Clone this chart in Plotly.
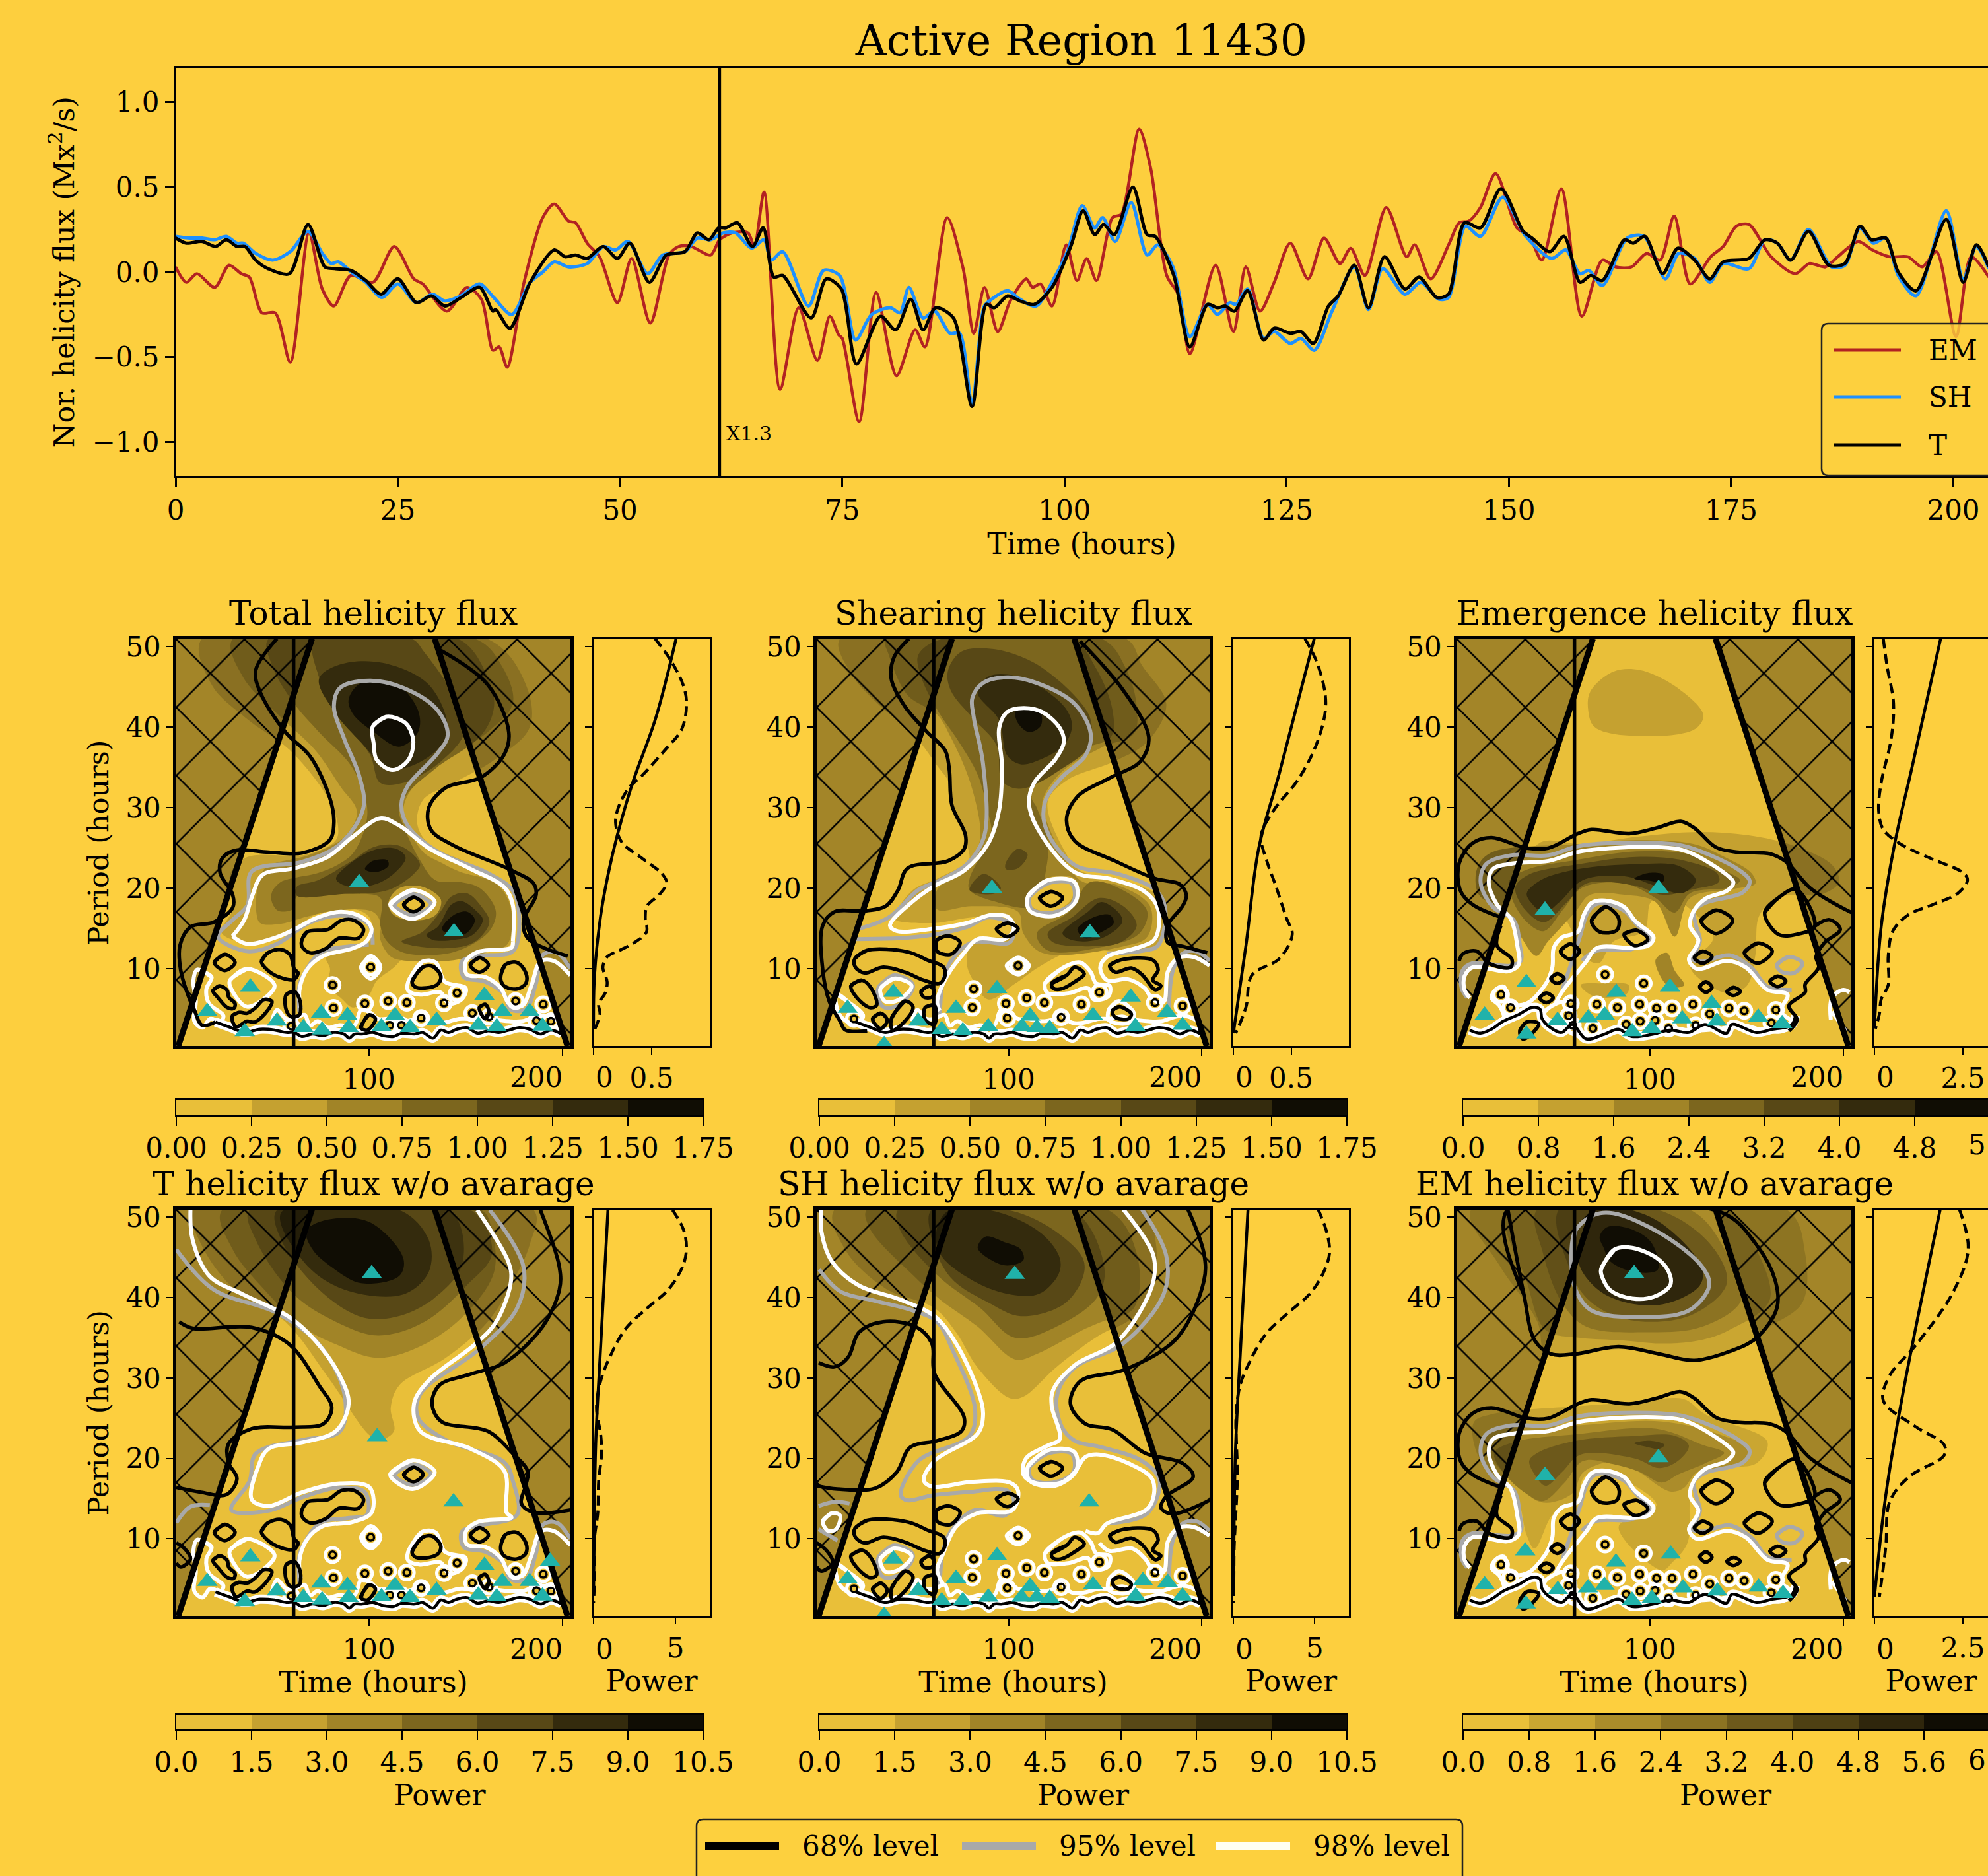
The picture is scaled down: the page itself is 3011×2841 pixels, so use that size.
import plotly.graph_objects as go

W, H = 3011, 2841
BG = "#FDCF3E"
FONT = "DejaVu Serif"


def palette(n):
    a, b = (233, 191, 57), (16, 13, 4)
    return ["rgb(%d,%d,%d)" % tuple(round(a[k] + (b[k] - a[k]) * i / (n - 1)) for k in range(3)) for i in range(n)]


# ---------------- top panel: knots
EM_T = [0,1.2,2.4,4.4,6,7.4,8.3,9.7,11.2,12.9,15,16.5,17.8,19.7,22.2,24.6,26.8,27.8,30.5,32.8,34.4,35.7,36.4,37.3,39.2,41.3,42.6,44.2,45,46.3,47.7,49.7,51.3,53.4,55.5,56.6,58,60.2,61.2,62.6,64.4,65.1,66.2,68,70.1,72.2,73.6,74.6,75,76.9,78.8,81.1,83.2,84.3,86.8,88.6,89.8,91,92.5,93.9,95.7,96.4,97.3,98.6,100.2,101.4,102.5,103.6,105.4,106.4,108.4,109.7,111.5,112.9,114.1,117,119,120.4,122,123.6,125.4,127.4,129.2,131,132.2,133.8,136.2,138.5,139.4,141.2,143.3,144.4,145.5,146.8,148.5,150.9,152.3,153.7,155.9,158.2,160.5,162,163.8,165.5,167,168.6,170.4,172.7,174.1,175.6,177,179.5,182.2,183.8,185.6,187,189.3,190.9,192.8,194.9,196.5,198.1,200.3,202,204]
EM_V = [.03,-.06,-.01,-.09,.04,-.01,-.03,-.24,-.24,-.53,.23,-.1,-.2,-.02,-.06,.15,-.04,-.07,-.23,-.09,-.16,-.46,-.44,-.56,-.06,.32,.4,.3,.29,.17,.09,-.18,.08,-.3,.1,.15,.15,.1,.19,.23,.23,.15,.47,-.69,-.21,-.52,-.26,-.37,-.39,-.88,-.12,-.61,-.34,-.44,.32,.02,-.36,-.09,-.35,-.17,-.04,-.09,-.07,-.2,.16,-.05,.08,-.05,.32,.34,.84,.61,-.02,-.14,-.48,.04,-.35,.03,-.23,-.06,.17,-.04,.2,.05,.14,-.02,.38,.09,.16,-.04,.17,.29,.3,.38,.58,.26,.21,.07,.49,-.26,.07,.03,.03,.11,.07,.33,-.07,.09,.15,.27,.28,.09,-.01,.05,.03,.09,.18,.13,.09,.09,.03,.12,-.38,.09,-.03]
SH_T = [0,1.6,3,4.4,5.7,6.9,7.6,9,10.9,12.9,14.9,16.5,17.5,18.3,20,21.4,23.2,25,27.1,28.9,30.3,32.1,34.2,35.8,37.8,39.9,41.3,42.6,44.2,46.3,48.1,49.5,50.9,53.1,54.8,57.3,58.7,60.2,61.6,63,64.8,66.2,67,68.3,71.2,72.9,74.7,76.5,78.3,80.4,81.5,82.5,84.1,85.4,87.1,88.2,89.6,91,91.8,93.6,95,96.8,98.9,100.4,102,103.4,104.3,105.7,107.5,109.3,110.5,112.2,114.1,116.1,117.2,118.6,119.3,120.6,122.4,123.6,125.4,126.6,128.1,130.1,132.6,134.2,135.8,138.3,140.1,142.1,143.2,145.1,146.8,149.3,151.9,154.8,156.4,158,159,160.5,163.3,165.2,167.6,169.1,170.9,172.6,174.1,177,178.8,180.2,181.7,183.7,186.3,187.8,189.5,191,192.4,193.8,195.8,199.2,201.1,202.6,204]
SH_V = [.21,.2,.2,.19,.21,.17,.17,.11,.07,.12,.24,.11,.05,.06,-.01,-.06,-.15,-.07,-.18,-.13,-.17,-.14,-.07,-.15,-.25,-.06,0,.06,.03,.05,.15,.13,.18,-.01,.1,.12,.2,.19,.23,.23,.14,.19,.07,.12,-.2,.01,-.02,-.4,-.25,-.21,-.24,-.09,-.27,-.23,-.36,-.36,-.78,-.2,-.16,-.11,-.16,-.2,-.03,.13,.39,.26,.32,.18,.41,.1,.16,.03,-.38,-.19,-.25,-.18,-.19,-.1,-.39,-.35,-.42,-.39,-.46,-.23,.03,-.22,.02,-.13,-.06,-.16,-.15,.27,.21,.44,.21,.08,.13,-.01,.01,-.08,.2,.21,-.04,.11,.08,-.06,.05,.02,.19,.17,.07,.25,.03,.04,.26,.17,.2,-.02,-.14,.36,-.04,.15,.02]
T_T = [0,1.2,3,4.5,5.7,6.9,7.8,9,10.4,12.8,14.9,16.8,17.9,19.7,21.4,23.1,25,27.1,28.8,30.3,32.1,34.2,35.7,36,37.6,39.9,42.6,43.8,45,46.3,48.1,49.7,51.1,53.3,55.2,57.3,58.7,60,61.1,61.9,63.2,64.9,66.1,67.3,68.3,71.5,73.2,74.9,76.6,79.3,81,82.7,84.1,85.5,87.5,89.6,91.2,92.1,93.6,95,96.6,98.6,100.7,102.1,103.4,104.4,105.6,107.7,109.3,110.2,112.3,114.1,116.1,117.2,118.1,119.1,120.6,122.4,123.6,125.4,126.6,128,129.7,130.8,132.6,134.2,136,138.3,139.9,141.9,143.2,145,146.8,149.1,151.6,152.6,154.6,156.2,158,159.2,160.5,163,164,165.3,167.3,169,170.9,172.6,174.1,177,178.8,180.2,181.7,183.7,186,187.8,189.5,190.8,192.4,193.8,195.8,199.2,201.1,202.6,204]
T_V = [.2,.17,.18,.15,.19,.15,.15,.07,.02,-.01,.28,.03,.02,.01,-.05,-.13,-.04,-.18,-.14,-.2,-.15,-.09,-.23,-.22,-.33,-.06,.13,.09,.1,.08,.15,.08,.17,-.06,.1,.12,.23,.19,.26,.26,.29,.15,.26,-.03,-.02,-.27,-.04,-.1,-.54,-.26,-.34,-.16,-.34,-.21,-.27,-.79,-.19,-.21,-.14,-.17,-.19,-.09,.15,.36,.22,.28,.22,.5,.22,.21,-.02,-.44,-.19,-.21,-.2,-.23,-.11,-.4,-.33,-.36,-.35,-.42,-.2,-.14,.04,-.21,.09,-.1,-.03,-.15,-.13,.29,.26,.49,.24,.2,.12,.21,-.06,-.02,-.05,.19,.17,.21,-.01,.14,.07,-.04,.06,.08,.19,.17,.07,.24,.04,.05,.27,.19,.2,0,-.11,.31,-.06,.16,.03]
TOP_TICKS = [0, 25, 50, 75, 100, 125, 150, 175, 200]
FLARE_T = 61.2
FLARE_LABEL = "X1.3"

# ---------------- colour bars
LEVELS_T_AVG = [0, .25, .5, .75, 1, 1.25, 1.5, 1.75]
LEVELS_EM_AVG = [0, .8, 1.6, 2.4, 3.2, 4.0, 4.8, 5.6]
LEVELS_T_RAW = [0, 1.5, 3, 4.5, 6, 7.5, 9, 10.5]
LEVELS_EM_RAW = [0, .8, 1.6, 2.4, 3.2, 4.0, 4.8, 5.6, 6.4]

# ---------------- cone of influence (time, period)
COI_LEFT = [(.7, .4), (1.7, .4), (70.7, 51), (.7, 51)]
COI_RIGHT = [(134, 51), (202.5, .4), (204, .4), (204, 51)]

# ---------------- filled bands: (level, outline of time,period)
bands_T_avg = [
 (1, [(13.9,51),(18.9,45.3),(37.4,41),(59.1,37.2),(78.7,31.3),(84.1,27.8),(83,26),(67.8,24.2),(37.4,23.9),(28.7,21.9),(29.8,17.4),(24,14.5),(41.7,13.2),(61.3,15),(74.3,17),(87.4,17.6),(100,16.5),(101,13.5),(88,12.5),(78,11.5),(80,10),(79,8),(86,6.3),(92,5.2),(100,6.7),(104,8.5),(112,10),(122,12),(150,12.2),(172,12.8),(174.5,17.9),(170,20.5),(152.6,23),(131,25.5),(125,28),(128,31),(143,33),(165,36),(183,40),(181,45.3),(161,51)]),
 (2, [(29.8,51),(35.2,46.2),(54.8,41.2),(72.2,37.2),(85.2,32.7),(93.9,29.5),(87.4,26.4),(70,24.2),(46.1,22.4),(41.9,18.8),(41.9,17.2),(43.9,15.7),(54.7,15.6),(68.2,16.5),(84.5,17.3),(102,17.1),(106,15.8),(106,13.6),(111.5,11.5),(119.6,11),(141.2,11),(160,12),(171.6,13.1),(173,17.8),(165.5,20.6),(146.6,22.1),(137.2,23.2),(127.7,24.6),(117.8,29.6),(124.3,33.1),(135.2,35.4),(161.3,39.4),(174.3,43),(168.9,47.5),(154.8,51)]),
 (3, [(48.3,51),(50.4,47.5),(61.3,43),(74.3,39.4),(91.7,34.9),(99.3,29.5),(92.6,24.6),(84.5,23),(73.6,21.9),(61.5,21.3),(54.7,20.8),(50,19.5),(50,18.3),(53.4,17.2),(61.5,17.5),(62.8,19),(92.6,19.3),(106,18.8),(106,15.3),(109.5,13.4),(118.2,12),(143.9,12.1),(162.2,14.7),(165.5,17.2),(157.4,20),(146.6,20.8),(134.5,21),(126.4,23.5),(117.8,27.8),(115.7,29.6),(120,31.8),(135,35),(158,39),(164.6,42.6),(161.3,46.2),(146,51)]),
 (4, [(72,51),(74.3,46.2),(83,41.7),(100.4,36.7),(105.9,33.1),(117.8,33.1),(137.4,35.8),(149.3,39.4),(146,43),(128.7,49.3),(122,51)]),
 (4, [(62.8,20.2),(73.6,21),(89.9,23.2),(103.4,25.2),(116.9,25.2),(126.4,23),(123.6,21.9),(110.1,19.8),(87.2,19.3),(62.8,19.1)]),
 (4, [(116.9,13.4),(127.7,14.6),(137.2,17.2),(142.6,19),(150.7,19.4),(158.8,17.5),(162.2,15.8),(156,13.6),(146.6,12.7),(127.7,12.7)]),
 (5, [(74.3,46),(85.2,47.8),(107,48),(130.9,45.3),(140.7,39.9),(135.2,37.2),(117.8,34.9),(107,35.4),(96.1,38.1),(83,41.7)]),
 (5, [(83.1,21.2),(92.6,23.5),(104.7,24.9),(114.2,24.9),(119,23.8),(110.1,21.3),(98,20.2),(87.2,20.4)]),
 (5, [(129.7,14.2),(135.8,15.3),(142.6,18),(148,18.4),(155.4,17.2),(158.8,16.1),(153.4,14.2),(143.9,13.6),(133.1,13.6)]),
 (6, [(89.6,43.5),(96.1,45.5),(113.5,45.5),(125.4,42.1),(125.4,39.4),(115.7,37.6),(102.6,39.4),(91.7,41.7)]),
 (6, [(98,22.4),(102,23.4),(109.5,23.5),(110.1,22.8),(103.4,22)]),
 (6, [(137.8,14.9),(143.9,16.7),(150.7,17.1),(154.7,16.1),(150.7,14.5),(145.3,14.1)]),
 (1, [(110.1,18.2),(115.5,20),(127.7,20.2),(137.2,18.6),(134.5,16.7),(123.6,16),(112.8,16.7)]),
 (0, [(112.8,18.2),(119.6,19.7),(130.4,19.5),(132.4,18),(123,16.4),(113.8,16.9)]),
 (0, [(95,10.2),(101,11.3),(107,10.2),(101,9.1)]),
]
bands_SH_avg = [
 (1, [(12.8,51),(18.4,46.7),(33.8,42.6),(50.5,39.2),(64.4,34.8),(68.6,33.4),(72.8,29.3),(79.8,23.9),(78.4,23.2),(63,21.2),(50.5,19.8),(40.7,16.4),(42.1,16),(61.6,15.7),(81.2,16.4),(99.3,16.4),(102,14.4),(81.2,13.3),(78.4,10.6),(82.6,8.2),(89.5,6.2),(103.5,8.2),(116,10.3),(134.2,12.3),(176,12.6),(180.2,18.4),(162,20.8),(137,22.2),(130,24.2),(120.2,30.7),(130,33.4),(155,35.8),(171.8,38.2),(181.6,42.9),(169,47.7),(160.7,51)]),
 (2, [(36.5,51),(38,49),(47.7,44),(63,41.6),(70,38.8),(79.8,33.4),(85.4,27.3),(84,24.9),(78.4,22.5),(63,19.8),(63,17.4),(81.2,17.8),(104.9,17.1),(107.7,14.4),(117.4,12),(159.3,12.8),(171.8,14),(173.2,17.8),(155,20.5),(138.4,20.8),(130.7,22.9),(120.2,28),(117.4,30.7),(127.2,34.4),(148.1,37.5),(164.8,39.2),(166.3,42.6),(160.7,47.3),(148.1,51)]),
 (3, [(65.8,51),(53.3,49),(54.7,46.3),(63,42.2),(74.2,38.2),(84,34.1),(89.5,29.3),(90.9,26.9),(79.8,21.2),(79.8,19.8),(92.3,18.4),(113.2,17.8),(119.5,22.5),(120.2,25.9),(114.6,30),(111.8,31.4),(117.4,34),(135.6,37.1),(153,38.8),(153.7,42.2),(145.3,47.3),(132.8,51)]),
 (3, [(114.6,14.4),(131.4,17.1),(142.5,20.8),(162,19.4),(171.8,17.1),(167.6,14.4),(148.1,12.7),(120.2,12.3)]),
 (4, [(68.6,47),(75.6,49.4),(92.3,49.7),(113.2,48),(134.2,43.9),(142.5,40.9),(141.1,37.5),(127.2,34.8),(111.8,32.7),(103.5,32.4),(96.5,33.4),(93.7,37.8),(81.2,41.2),(70,44.6)]),
 (4, [(98.6,23.2),(104.9,24.9),(109.8,24.2),(104.9,22.5),(98.6,22.4)]),
 (4, [(79.8,19.8),(87,21.8),(96,20),(92,19.3)]),
 (4, [(120.2,14.4),(132.8,16.4),(146.7,18.8),(159.3,17.8),(166.3,15.4),(158,13.3),(141.1,12.8),(123,13.3)]),
 (5, [(84,44.3),(89.5,46.3),(106.3,46.2),(128.7,42.6),(132.8,40.2),(128.7,37.8),(117.4,36.1),(106.3,35.4),(99.3,36.5),(95.1,40.9)]),
 (5, [(127.9,14.4),(141.1,17.1),(148.1,18.3),(157.9,16.7),(158.6,15.7),(148.1,13.8),(134.2,13.5)]),
 (6, [(103.5,41.9),(106.3,42.4),(116,42.1),(116.7,40.2),(110.5,39.4),(104.9,40.5)]),
 (6, [(135.6,14.9),(143.9,16.4),(152.3,16.7),(154.4,15.7),(146.6,14.4),(139.8,13.8)]),
 (1, [(110.5,19.1),(120.2,21.3),(134.2,21.2),(135.6,18.8),(124.4,16.7),(110.5,17.4)]),
 (0, [(111.2,19.1),(120.2,20.8),(132.8,20.8),(132.8,18.8),(123,17.1),(111.9,17.8)]),
]
bands_EM_avg = [
 (1, [(68.3,42.1),(69.3,44.4),(81.2,46.9),(95,47.1),(114.9,44.8),(127.7,41.5),(122.8,39.7),(87.1,39),(71.3,40.1)]),
 (1, [(34.7,21.9),(43.6,25.7),(65.4,25.5),(93.1,26.4),(124.7,27),(150.5,26.6),(174.3,25.3),(194.1,22.9),(197.7,20.8),(190.2,19.4),(166.4,18.9),(156.5,16.6),(154.5,11.7),(150.1,7.9),(139.6,7),(120.8,10.3),(132.7,13.8),(122.8,17),(112.9,18.6),(101,18.4),(97.1,14.7),(81.3,13.4),(73.7,10.7),(65.9,11.6),(60,14.7),(54,16.9),(42.1,18.3)]),
 (1, [(64.4,8),(75.2,8.2),(89.1,8),(88.1,6.9),(71.3,6.6)]),
 (2, [(10.9,22.4),(17.8,24.4),(63.4,25.5),(93.1,26),(122.8,25.5),(138.6,23.9),(152.5,21.9),(154.5,20.6),(142.6,19.9),(120.8,18.8),(112.9,14),(103,18.3),(87.1,19.2),(69.3,19.2),(61.4,17),(47.5,13.4),(41.6,11.6),(31.7,14.7),(23.8,17.4),(11.9,19.2)]),
 (2, [(103,11.1),(108.9,12),(112.9,9.8),(117.8,8),(109.9,7.8)]),
 (3, [(27.7,21),(37.6,22.4),(61.4,23.5),(93.1,24.6),(120.8,24.2),(136.7,22.4),(146.6,21),(140.6,20.1),(120.8,19.4),(112.9,17),(103,18.8),(87.1,20.6),(65.3,20.1),(55.4,17.4),(45.5,14.7),(37.6,15.6),(29.7,18.3)]),
 (4, [(30.7,20.1),(37.6,21.7),(63.4,23),(93.1,23.9),(116.8,23.5),(134.7,21.9),(135.7,20.8),(122.8,19.9),(106.9,19.2),(93.1,20.3),(67.3,20.6),(57.4,18.3),(45.5,15.8),(35.6,17.4)]),
 (5, [(36.6,19.4),(43.6,21),(63.4,22.4),(93.1,23),(114.9,22.8),(123.8,21),(116.8,19.4),(103,20.3),(87.1,21.5),(65.3,21),(53.5,18.3),(45.5,17),(38.6,18.3)]),
 (6, [(92.1,21.2),(99,21.9),(106.9,21.7),(106.9,20.8),(99,21)]),
]
bands_T_raw = [
 (1, [(9.1,50.9),(12.4,47.2),(28.7,41.5),(57,37),(78.7,30.2),(100.4,22.9),(105.9,22.3),(113,23.4),(111.3,26.3),(115.7,29.1),(139.6,32.5),(161.3,37),(174.3,42),(183,46.6),(185,50.9)]),
 (2, [(24.3,50.9),(29.8,46),(46.1,41),(65.7,36.4),(83,34.2),(104.8,32.5),(128.7,34.2),(150.4,38.1),(164.6,43.2),(163.5,48.3),(158,50.9)]),
 (3, [(38.5,50.9),(41.7,47.2),(61.3,40.4),(83,37),(104.8,35.3),(128.7,37),(150.4,41.5),(163.5,45.5),(152.6,50.9)]),
 (4, [(52.6,50.9),(54.8,47.2),(74.3,41),(96.1,37.6),(113.5,37.6),(133,39.8),(148.3,44.3),(141.7,50.9)]),
 (5, [(54.8,50.6),(66.7,44.4),(87.4,41),(117.8,40.4),(130.9,43.2),(130.9,47.2),(115.7,50.9)]),
 (6, [(67.8,48.3),(78.7,49.7),(100.4,49.4),(117.8,44.9),(115.7,42.7),(96.1,41.8),(80.9,43.8),(71,46)]),
]
bands_SH_raw = [
 (1, [(10,51),(15.6,45.9),(36.5,41.1),(61.6,38.7),(72.8,35.7),(84,31.3),(100.7,27.5),(107.7,27.7),(124.4,31.3),(146.7,35.3),(163.5,37.4),(175.9,42.1),(174.6,48.9),(170.4,51)]),
 (2, [(26.8,51),(28.2,48.6),(50.5,42.8),(64.4,39.8),(84,36.4),(103.5,32.3),(114.6,33),(138.4,36),(148.1,37),(164.8,38.7),(166.3,45.5),(150.9,51)]),
 (3, [(43.1,51),(43.5,48.6),(63,42.8),(85.4,38.7),(103.5,35),(127.2,36.7),(146,40.1),(149.5,43.8),(132.8,51)]),
 (4, [(60.3,51),(59.6,47.9),(70,42.5),(89.5,39.4),(106.3,37.7),(128.6,39.2),(138.4,42.5),(138.4,44.9),(120.2,48.9),(97.9,51)]),
 (5, [(63,48.7),(64.4,45.5),(84,41.8),(103.5,40.3),(116,40.5),(125.8,42.9),(126.5,44.9),(117.4,47.9),(95.1,50.6),(70,51)]),
 (6, [(84,46.2),(88.1,47.6),(97.9,46.9),(106.3,46),(107.7,44.7),(99.3,44),(90.9,44.7)]),
]
bands_EM_raw = [
 (1, [(8,51),(22.6,44),(42.1,37),(46.3,33),(61.6,33),(85.4,33.6),(106.3,33),(123,32.4),(149.5,34.3),(162,36.4),(178.8,39.4),(180.2,45.5),(170.4,51)]),
 (2, [(26.8,51),(36.5,42.1),(46.3,36),(64.4,35),(85.4,34.7),(106.3,34.3),(125.8,34.7),(141.1,36),(162,39.8),(149.5,48.3),(138.4,51)]),
 (3, [(42.1,51),(45,45.5),(54.7,39.4),(67.2,36.4),(97.9,35.7),(127.2,36.4),(147.4,39.8),(139.8,45.5),(120.2,51)]),
 (4, [(53.3,51),(58.9,43.5),(65.8,40.4),(78.4,38.1),(97.9,37),(123,38),(139.8,41.8),(131.4,46.6),(103.5,51)]),
 (6, [(62.9,44.9),(72.8,41.1),(89.5,39.3),(109,39.3),(125.8,41.5),(127.2,43.5),(117.4,46.9),(97.9,50.3),(72.8,51)]),
 (7, [(74.2,47.6),(78.4,48.8),(89.5,48.6),(100.7,46.9),(104.2,43.5),(92.3,43.2),(79.8,44.5),(76.3,46.2)]),
 (1, [(9.3,24.5),(18.4,25.5),(63,26.5),(92.3,27),(117.4,27.4),(128.6,25.5),(160.7,22.1),(155.1,19.4),(128.6,18.7),(123.7,17.3),(120.9,15),(119.5,9.5),(111.8,7.1),(106.3,6.1),(84,11.5),(103.5,14.2),(85.4,17.6),(77,18.7),(65.8,17.6),(63,14.6),(50.5,13.2),(40.7,8.8),(36.5,10.5),(32.3,14.6),(24,17),(11.4,20.4)]),
 (2, [(15.6,21.4),(17,23.4),(61.6,24.1),(106.3,24.6),(138.4,22.8),(152.3,21.1),(142.5,19),(124.4,18.3),(117.4,16.3),(110.5,15.9),(92.3,18.7),(84,19.7),(65.8,18.3),(60.3,15.7),(50.5,14.6),(43.5,14.6),(36.5,15.6),(25.4,18)]),
 (3, [(19.8,20.7),(31,22.1),(61.6,23),(103.5,23.7),(127.2,21.7),(138.4,20.7),(128.6,19.4),(114.6,18),(106.3,17),(95.1,18.3),(81.2,19.3),(65.8,19.7),(56.1,17),(45,14.7),(36.5,15.6),(25.4,18)]),
 (4, [(37.9,19.7),(42.1,20.7),(61.6,22.2),(92.3,22.8),(113.2,22.8),(120.2,21.6),(114.6,19.7),(104.9,18.8),(92.3,20),(64.4,20.5),(54.7,18.3),(46.3,16.6),(40.7,18)]),
 (5, [(92,21.9),(100.7,22.2),(107.7,21.7),(104.9,21.2),(99.3,21.4)]),
]

# ---------------- significance contours (time, period)
wiggle_TS = list(zip(
 [20.9,29,35.8,43.9,51.4,57.4,61.5,65.5,71,76.3,81.8,87.2,89.9,92.6,96.6,102,107.4,112.8,116.9,123.6,127.7,133.1,137.2,141.2,145.3,150.7,156,161.5,166.9,172.3,177.7,183.1,188.5,193.9,199.4],
 [3.4,2.7,2.1,2.5,2.4,2.1,2.1,1.6,1.9,1.7,2.1,1.9,1.4,1.9,1.9,2.1,1.7,1.6,2,1.9,2.1,1.4,2.4,2.1,2.5,2.7,2,2.3,2.1,2.4,2.7,2.5,1.9,2.4,1.9]))
lace_TS = [(50,3.5),(52.7,4.9),(57.4,3.8),(61.5,3.8),(66.9,4.3),(69.6,2.96),(73.6,3.5),(79,2.7),(84.5,3),(92.6,3),(96,4.9),(100.7,4.6),(104.7,3.8),(110.1,3.8),(115.6,3.5),(123.6,3.8),(127,4.6),(129.7,3.8),(133.1,3.3),(138.5,3.3),(146.6,3.8),(152,3.8),(158.8,4.1),(162.9,3.8),(172.3,3.5),(179,3.5),(187.1,4.1),(192.6,4.1),(198,3.5)]
wiggle_EM = [(7.1,2.4),(12.7,2),(18.3,2.5),(24.5,3.5),(32.2,4.3),(39.2,5.2),(43.4,5),(44.5,3.8),(48.3,2.8),(54.5,2.1),(60.1,3.1),(67.1,1.3),(76.8,1.9),(83.8,2.5),(90.8,1.6),(102,1.9),(110.3,2.4),(120.1,2.1),(128.5,3.1),(139.6,2),(142.4,3.1),(155,2.1),(163.3,2.5),(173,3),(175.2,4.2)]

# column 1: total helicity
black_loops_T = [
 [(65.5,13.6),(68.2,14.6),(79,14.9),(85.8,16),(92.6,16),(97.3,14.9),(94.6,13.8),(84.5,13.8),(77.7,12.5),(69.6,12),(65.5,12.8)],
 [(118,18),(123,18.9),(128,18),(123,17.1)],
 [(20.3,10.8),(25.7,11.8),(31,10.8),(25.7,9.8)],
 [(44.6,10.9),(48,12),(54.7,12.4),(59.5,11.7),(61.5,10),(63.5,9.5),(61.5,8.7),(54.7,8.9),(48,9.8)],
 [(152.3,10.5),(157,11.4),(161.7,10.5),(157,9.6)],
 [(168.2,9.3),(170.3,10.5),(176.4,10.8),(181,9.5),(181,8.2),(176.4,7.5),(170.3,7.8),(168.2,8.5)],
 [(122.3,8.4),(127.7,10.2),(133.1,10.3),(137.2,9),(135,8),(124.3,7.7)],
 [(19.6,7.3),(23,7.9),(27,7.3),(27.7,6.5),(31,5.7),(30.4,5.1),(27,5.2),(22.3,6.4)],
 [(29.7,4.2),(33.1,4.6),(37.2,4.5),(41.2,5.1),(46,6.2),(50,5.96),(48,4.9),(41.2,3.4),(37.2,3.5),(31.8,2.8),(29.7,3.5)],
 [(57.4,6.8),(61.5,7.2),(64.2,6.3),(64.9,5.1),(64.2,4.3),(60,4.05),(57.4,4.9)],
 [(95.9,2.7),(100,4.3),(103.4,3.8),(99.3,2.4)],
 [(157,5.2),(160,5.6),(162,4.6),(160,3.8)],
]
black_top_T_avg = [
 [(52.6,51),(41.7,47.1),(43.9,44.4),(57,39.4),(70,36.3),(79.8,31.3),(82,28.2),(79.8,26),(65.7,24.4),(48.3,24.5),(30.9,24.7),(24.3,23.7),(23.3,21.9),(29.8,19.2),(29.8,17.6),(20,15.8),(8,15.2),(2.6,12.9),(3,9.8),(7,6.6),(10.2,4.8),(14,3),(21,3.4)],
 [(135.2,49.8),(161.3,45.3),(172.2,39.4),(170,36.7),(158,33.8),(139.6,32.5),(130.9,30),(132,27.3),(143.9,25.3),(172.2,22.4),(185,20.6),(186.3,19.2),(179.8,16),(182,13.8),(202.6,11.6)],
]
black_top_T_raw = [
 [(2.2,37),(9.1,36.2),(39.6,36.3),(59,34.2),(74.3,29.1),(80.9,26.3),(76.5,24.3),(61.3,23.9),(39.6,23.7),(27.6,21.8),(27.6,19.5),(32,17.5),(26.5,15.5),(13.5,15.8),(.7,16.4)],
 [(188.5,50.9),(198.3,43.8),(198.3,41),(189.6,36.4),(170,31.9),(152.6,30.5),(136.3,29.1),(132.6,26.8),(137.4,24.6),(161.3,23.4),(174.3,20.6),(182,18.4),(181,16.7),(178.7,14.4),(185,13.3),(204,13.6)],
 [(.7,9.5),(5,8.8),(8,7.5),(3,6.5),(.7,7)],
]
white_low_T = [
 [(64.9,5.15),(64.2,7.3),(68.2,9.95),(76.4,11.6),(91.2,12.5),(98.6,13.4),(101.4,15),(96.6,16.4),(85.8,17.1),(73.6,16.4),(61.5,14.9),(52,13.9),(37.2,13.1),(29.7,14.05)],
 [(174.3,13.4),(173.6,12.65),(156,12.1),(150,10.9),(150.7,9.3),(160.1,9),(168.2,7.6),(172.3,5.7),(179,5.4),(183.8,7.9),(188.5,10.9),(195.3,11),(204,9.2)],
]
white_loops_T = [
 [(120.3,8.4),(127.7,10.9),(134.5,10.8),(139.2,8.4),(150,7.6),(148,6.25),(141.2,5.7),(137,7.07),(126.4,6.8),(120.3,7.3)],
 [(28.4,8.6),(37.2,10),(51.4,7.9),(37.2,5.3),(28.4,7.9)],
 [(11.5,9.9),(18.9,9),(16.2,7.5),(17.6,5.7),(25,4.2),(23.6,3.5),(18.2,3.8),(14.2,2.7),(10,3.5),(10.8,6),(9.5,8.5)],
 [(111,18),(122.6,19.8),(134,18.3),(122.6,16.2)],
 [(96,10.2),(101,11.6),(106,10.2),(101,8.8)],
]
white_top_T_avg = [
 [(29.7,14.05),(35.8,16.1),(39.9,19.1),(45.3,21.7),(61.5,22.5),(78.7,23.9),(91.7,26.4),(105.9,28.7),(115.7,27.8),(130.9,25),(152.6,22.4),(170,20.1),(174.3,17.9),(174.3,13.4)],
]
white_closed_T_avg = [[(102,40.1),(109,41.3),(119,40.5),(123,38.2),(120,35.8),(112,34.7),(104,36),(102.5,38)]]
grey_top_T_avg = [
 [(64.2,4.6),(64.2,7.9),(66.9,9.5),(75,12),(90,12.8),(100,13)],
 [(102,13),(100,15.5),(88,16.6),(70,15.8),(52.6,13.1),(37.4,12.2),(22.2,14),(29.8,16.1),(37.4,17.9),(39.6,22.1),(65.7,23.3),(85.2,25.5),(97.2,30),(95,34),(87.4,38.5),(82,42.6),(85.2,44.9),(100.4,45.8),(117.8,44.9),(135.2,42.2),(140.7,39),(135.2,36.7),(120,32.7),(116.8,30.4),(120,27.8),(135.2,24.6),(161.3,21.9),(174.3,19.7),(177.6,16.1),(174.3,12.2),(156,11.6),(148,10.9),(149,9),(160,8.4),(170,6.8),(173,5),(181,5),(186,8),(190,11.8),(197,12),(204,10)],
]
grey_loops_T = [[(113,18),(122.6,19.3),(132,18),(122.6,16.7)]]
white_top_T_raw = [
 [(8,50.9),(9.1,47.2),(17.8,42.7),(35.2,40.4),(59,37.6),(72.2,34.7),(85.2,30.2),(89.6,26.8),(83,23.4),(65.7,22),(48.3,21.2),(42.8,18.9),(39.6,14.9),(48.3,14.1),(65.7,15.8),(85.2,16.9),(100.4,16.4),(101.5,13.3),(91.7,12.1),(76.4,11.6),(68.2,9.95),(64.2,7.3),(64.9,5.15)],
 [(155.9,50.9),(172.2,44.3),(173.3,42),(165.7,37),(154.8,34.2),(130.9,29.7),(123.3,26.8),(126.5,23.4),(152.6,21.2),(170,18.4),(171,13.3),(173.6,12.65),(156,12.1),(150,10.9),(150.7,9.3),(160.1,9),(168.2,7.6),(172.3,5.7),(179,5.4),(183.8,7.9),(188.5,10.9),(195.3,11),(204,9.2)],
]
grey_top_T_raw = [
 [(.7,46),(20,41),(52.6,38.1),(74.3,34.2),(87.4,28),(85.2,23.4),(65.7,22.3),(41.7,20.6),(38.5,17.2),(29.1,13.6),(48.3,13.5),(66,15.2),(85,16.4),(98,15.8),(99,13),(90,12.6),(75,12),(66.9,9.5),(64.2,7.9),(64.2,4.6)],
 [(162.4,50.9),(179.8,43.8),(176.5,38.7),(157,33.6),(126.5,28),(125.4,25.1),(139.6,22.3),(170,19.5),(174.3,17.2),(176.5,13),(156,11.6),(148,10.9),(149,9),(160,8.4),(170,6.8),(173,5),(181,5),(186,8),(190,11.8),(197,12),(204,10)],
 [(.7,12),(8,14),(18,14.2)],
]
rings_T = [(101,10.2),(81.3,8),(145.5,7),(138.8,5.75),(110,6),(119.6,5.8),(175.7,6),(98,5.7),(190,5.6),(60,2.9),(153.4,4.5),(162.1,4.05),(186.5,3.56),(193.9,3.5),(127,3.9),(81.8,5.15),(110.8,3),(116.9,3)]
tris_common_T = [(38.9,7.75),(159.6,6.7),(16.7,4.7),(75.4,4.5),(89,4.2),(113.5,4.2),(52.6,3.5),(135,3.6),(168.9,4.7),(183,4.7),(156.5,3),(166,2.8),(189.6,2.9),(66.3,2.7),(75.9,2.4),(89.6,2.7),(106.5,2.8),(121.3,2.7),(36,2.2)]
tris_T_avg = [(95,20.7),(143.9,14.6)]
tris_T_raw = [(101.5,43),(104.3,22.7),(143.7,14.6),(193.5,7.2)]

# column 2: shearing helicity
black_loops_SH = [
 [(20.5,11.3),(26.8,12.3),(47.7,12.1),(58.9,11),(66,10.3),(67.2,9.3),(64.4,8.2),(56.1,8.6),(46.3,9.6),(35.1,10.2),(25.4,9.5),(20.5,10.3)],
 [(18.4,7.9),(24,8.6),(28.9,7.6),(31.7,5.5),(28.2,5.2),(21.2,6.5)],
 [(39.3,3.8),(46.3,6),(50.5,5.3),(46.3,3.5),(40,2.4)],
 [(29.6,3.8),(33.8,4.5),(37.2,3.6),(33.8,2.6)],
 [(54.7,7.2),(58.9,7.9),(61.6,7.2),(60.3,6.5),(56.1,6.5)],
 [(56.8,5.2),(61.6,5.5),(61.6,3.1),(56.8,3.7)],
 [(63,13.6),(68.6,14.1),(74.9,13.3),(70,11.8),(63,12.2)],
 [(93.7,15),(99.3,15.7),(104.9,15),(99.3,14)],
 [(116,18.8),(121.9,19.6),(127.9,18.8),(121.9,17.8)],
 [(122.3,8.2),(130,9.2),(134.2,10.2),(139.1,9.4),(134.2,8.4),(127.2,7.5),(123,7.6)],
 [(152.3,10.4),(157.9,11.1),(174.6,11.1),(177.4,9.9),(174.6,8.6),(178.8,7.9),(176,7.4),(169,9.3),(163.5,10.1),(155.1,9.6)],
 [(153.7,4.8),(157.2,5.3),(163.5,4.4),(162,3.8),(155.1,4)],
]
black_top_SH_avg = [
 [(48.4,51),(40.7,48.7),(39.3,46),(46.3,42.6),(57.5,39.5),(67.2,37.1),(69.3,34.8),(70.7,30.3),(77.7,26.6),(77,24.9),(68.6,23.4),(47.7,22.5),(42.8,19.8),(36.5,17.8),(25.4,17.2),(10,17.1),(3.8,15.4),(3.8,9.9),(7.3,5.9),(12.8,3.5),(15.6,2.4),(26.8,2.3)],
 [(137,50.7),(159.3,44.6),(172.5,38.8),(168.3,35.8),(152.3,33.7),(135.6,31.4),(130,28.6),(134.2,25.9),(155.1,23.4),(176,21.2),(188.6,20.5),(192,19.1),(190,17.8),(182.3,15.4),(182.3,13.3),(190,12.8),(202.8,12)],
]
white_top_SH_avg = [
 [(64.4,4.8),(63,5.9),(68.6,9.3),(77,12),(83.9,13.7),(97.9,13.7),(102.8,15),(100,16.4),(91,16.7),(78.4,15.7),(61.6,15),(42.1,14.7),(38.6,15.4),(50.5,18.4),(61.6,20.3),(77,22.2),(89.5,25.6),(95.1,29.7),(96.5,35.4),(95.1,39.9),(99.3,41.9),(107.7,42.4),(117.4,41.9),(126.5,39.9),(128.6,38.2),(124.4,36.1),(113.2,33.1),(110.5,30.7),(114.6,27.6),(134.2,22),(152.3,21.2),(170.4,19.6),(177.4,17.4),(175.7,13.7),(167.6,12.7),(150.9,11.5),(147.4,10.1),(150.9,8.6),(162,8.7),(170.4,7.6),(174.6,6.2),(180.2,5.9),(182.3,9.6),(187.2,11.3),(195.5,11.5),(204,10.4)],
]
grey_top_SH_avg = [
 [(64.4,4.3),(66,8.4),(70,10.9),(81.2,13.3),(100.7,13.3),(102,15.4),(89.5,16.4),(78.4,15.2),(53.3,14),(21.2,13.7)],
 [(22.6,15),(38,16.4),(53.3,19.8),(64.4,21),(78.4,23),(87.5,26.6),(86.8,35.4),(82,41.2),(81.2,43.6),(86.8,45.5),(99.3,46.2),(114.6,45.5),(134.2,42.9),(142.5,39.2),(139.8,36.5),(127.2,33.7),(118.8,30.7),(119.5,27.3),(134.2,22.9),(156.5,21.8),(176,19.8),(181,17.6),(177.4,12.9),(170.4,12.3),(151,11.9)],
 [(183,5),(185,9.8),(190,11.9),(197,12.2),(204,11)],
]
white_loops_SH = [
 [(118.8,8.2),(128.6,10.2),(137,10.8),(142.5,9.6),(145.3,8.2),(152.3,7.9),(151.6,6.6),(144,6.2),(141.1,7.6),(131.4,7),(120.2,7)],
 [(33.8,7.6),(40.7,8.8),(49.8,7.9),(43.5,6.2),(36.5,5.9),(33.8,6.9)],
 [(10.7,6.9),(17,5.9),(24.7,4.2),(21.2,3.1),(12.8,4.2)],
 [(110,19),(120,21),(134,20.8),(135,18.5),(124,16.6),(111,17.2)],
 [(99,10.4),(104.9,11.4),(110.5,10.4),(104.9,9.3)],
 [(152,5),(157,6),(165,4.4),(162,3.3),(152,3.6)],
]
grey_loops_SH = [
 [(111,19),(120,20.6),(132.6,20.6),(133.5,18.3),(123,17),(112,17.4)],
 [(32.5,7.6),(40.7,9.2),(50.5,8),(44,5.6),(35,5.3)],
]
rings_SH = [(104.9,10.4),(81.9,7.5),(147,7.1),(109.4,6.4),(118.5,5.8),(137.7,5.6),(175.7,5.8),(190,5.4),(81.2,5.2),(98.6,5.7),(127.2,4),(99.3,3.9),(20,3.8)]
tris_SH_avg = [(91.4,20),(142.1,14.5),(40.4,7.1),(94,7.55),(163.2,6.5),(16.7,5.1),(72.8,5.1),(111.2,4.15),(143.7,4.2),(182,4.6),(53.3,3.5),(65.4,2.45),(76.3,2.3),(89.5,2.8),(107,2.85),(114.6,2.7),(121.3,2.6),(165.6,2.85),(190,3),(35.6,.6)]
tris_SH_raw = [(103.2,42.9),(141.7,14.6),(40.4,7.5),(94,7.9),(169.5,4.8),(16.7,5),(72.8,5.1),(111.2,4.1),(143.7,4.3),(182.3,4.6),(53.3,3.6),(65.4,2.3),(76.3,2.3),(89.5,2.75),(106.7,2.75),(114.6,2.75),(121.3,2.6),(165.7,2.9),(190,2.9),(35.6,.5)]
white_top_SH_raw = [
 [(3.1,51),(3.1,48.3),(8.6,44.5),(22.6,41.5),(43.5,39.8),(61.6,37.7),(72.8,34.3),(84,28.5),(86.8,25.5),(84,23.1),(61.6,19.7),(56.1,17.3),(60.3,16.5),(81.2,17.1),(100.7,17),(104.9,16),(102,13.6),(84,13.2),(72.8,11.5),(66,8.1),(63,6.1),(66,4.4)],
 [(159.3,51),(174.6,45.5),(175.3,42.5),(167.6,38.1),(155.1,34.3),(134.2,31.6),(123,28.5),(122.3,26.5),(126.5,22.4),(120.2,21.6),(109,20),(107.7,18),(113.2,17),(127.2,17),(134.2,18.3),(139.8,20.2),(146.7,20.5),(162,19.4),(174.6,17.3),(172.5,13.9),(150.9,11.9),(146,10.7),(139.8,11)],
 [(147,9.5),(152,8.5),(164,8.8),(170.4,7.6),(174.6,6.2),(180.2,5.9),(182.3,9.6),(187.2,11.3),(195.5,11.5),(204,10.4)],
]
grey_top_SH_raw = [
 [(2,43.5),(12.8,40.8),(31,39.6),(50.5,38.4),(63,37),(71.4,33.3),(82.6,26.2),(79.8,22.8),(53.3,19.7),(44.2,15.4),(47.7,14.8),(60.3,15.4),(78.4,15.8),(99.3,16),(102.8,14.6),(97.9,12.9),(82.6,13.6),(70,10.9),(66,8.4),(64.4,4.3)],
 [(169,51),(181.6,45.2),(180.2,40.4),(159.3,34.3),(134.2,31.3),(125.1,27.9),(127.2,24.1),(134.2,22.2),(148.1,21.4),(169,19.7),(178.1,17.3),(171.8,13.2),(151,11.9)],
 [(1.7,14.1),(10,14.6),(17.7,14.4)],
 [(1.7,11.2),(11.4,9.8)],
 [(183,5),(185,9.8),(190,11.9),(197,12.2),(204,11)],
]
black_top_SH_raw = [
 [(1.7,31.9),(10,31.4),(17,32.6),(22.6,35.7),(35.1,37),(51.9,36.4),(60.3,34.3),(61.6,30.6),(77,25.1),(75.6,23.4),(63,22.2),(49.1,21.4),(42.1,18.3),(31,16.3),(11.4,16.2),(.7,16.6)],
 [(192.8,51),(201.1,45.5),(201.1,42.1),(187.2,35),(160.7,31.1),(137,29.6),(132,26.8),(139.8,24.3),(153.7,23.6),(170.4,20.7),(190,19.4),(195.5,17.7),(181.6,15.3),(178.8,13.9),(184.4,13.1),(204,14.8)],
 [(.7,9.5),(6,8.5),(9,7),(3,6),(.7,6.5)],
]
white_extra_SH_raw = [[(3.8,12.2),(8.6,13.2),(12.8,12.9),(10.7,11.2),(6.6,11)]]

# column 3: emergence helicity
black_loops_EM = [
 [(70,16),(77,17.7),(84,16.3),(83,14.8),(74.2,14.6)],
 [(86.8,14.3),(93,14.8),(99,13.7),(92.3,12.9)],
 [(126.5,16),(134.2,17.3),(142.8,16),(134.2,14.4)],
 [(148.8,12),(155.8,13.2),(163.2,12.2),(155.8,10.7)],
 [(54,12.2),(58.9,13.1),(63.7,12.2),(58.9,11.2)],
 [(123,11.4),(127.2,12.2),(132.1,11.5),(127.2,10.7)],
 [(162,8.5),(166,9.1),(170.2,8.5),(166,7.8)],
 [(49,8.8),(52.2,9.4),(55.8,8.8),(52.2,8.2)],
 [(43.2,6.4),(46.6,7),(50.2,6.4),(46.6,5.8)],
 [(125.8,7.8),(128.9,8.4),(132.1,7.7),(128.9,7.1)],
 [(139.8,7.2),(143.2,7.7),(146.7,7.2),(143.2,6.7)],
 [(159.3,17),(166.3,18.8),(175.4,19.9),(185.1,15.3),(176,14.3),(166.3,14.3)],
 [(33,2.3),(36.5,3.4),(42.8,3.2),(38,1.7),(34.5,1.3)],
]
black_open_EM = [
 [(23.3,15.4),(21.2,12.9),(28.9,11.2),(28.2,10.2),(17,10.7),(10.7,12.2),(3.8,11.9),(1.7,11)],
 [(24.7,16.3),(8.6,18),(2.4,19.7),(1.7,23.1),(8.6,25.6),(18.4,26.3),(36.5,25),(47.7,25),(63,26.8),(70,27.3),(89.5,26.8),(103.5,27.5),(116,28.3),(123,27.5),(134.2,25.1),(145.3,24.5),(162,24.3),(170.4,23.3),(183,20),(204,17)],
 [(185.1,15.3),(192.7,16.1),(198.3,14.9),(190,13.2),(185.8,11.5),(187.2,10.2),(180.2,8.1),(180.2,7.1),(171.8,5.4),(176,3.7),(171.8,2.3)],
]
white_open_EM = [
 [(7.3,6.4),(4.5,7.4),(4.5,9.1),(8.7,10.2),(26.8,9.7),(32.4,10.5),(31.7,12.9),(28.2,16.3),(21.2,18),(17,20.7),(19.1,22.4),(29.6,23.1),(47.7,23.4),(64.4,24.6),(106.3,25.1),(120.2,24.5),(141.1,21.4),(143.2,20.7),(139.8,19.7),(128.6,18.7),(122.3,17),(120.9,15.3),(125.1,13.6),(123.7,12.6),(120.2,11.2),(124.4,10),(139.8,11),(149.5,10.2),(160.7,7.4),(171.1,6.8),(167.6,4.7),(173.2,3.4),(169,2.3),(159.3,2.3),(148.1,3),(134.2,2.5),(120.2,2.3),(106.3,2.3),(92.3,2),(78.4,2.3),(65.8,1.5),(54.7,2.7),(45.6,4.4),(51.9,5.7),(63,6.1)],
 [(8.6,2.7),(14.2,2),(18.4,2.7),(24.7,3.7),(22.6,5.4),(18.4,6.4),(20.5,7.4),(24.7,7.8),(28.2,5.7),(36.5,5.7),(46.3,8.1),(49.8,10.2),(50.5,12.6),(54.7,13.9),(63,14.6),(65.8,16.6),(70,18.2),(77,18.5),(86.8,17.7),(92.3,16),(102,13.9),(99.3,12.9),(90.9,12.6),(72.8,12.6),(67.2,10.9),(54.7,7.1),(51,5.5)],
 [(193.4,3.7),(194,6.4),(199.8,7.4),(203,7.1)],
 [(194,4.7),(201.1,2.3)],
]
grey_open_EM = [
 [(6,6.4),(3,7.6),(3.5,9.8),(8.7,10.7),(28,10.4),(33.5,11),(33,13),(30,16),(19.1,17.7),(12.8,20.7),(15.6,23),(28.2,24.1),(47.7,24.1),(64.4,25.3),(106.3,25.6),(120.2,25.1),(145.3,22.4),(151.6,20.9),(148.1,19.5),(128.6,18.2),(123,17.2),(124,15.3),(126,13.6),(124.7,12.6),(122,11.2),(127.2,10.9),(141.1,11.7),(152.3,10.2),(160.7,7.8),(173.2,7.4)],
 [(55,7.5),(60,11),(64,14),(68,17),(72,18),(77,18.1),(87,17.2),(93,15.6),(100,13.8),(96,13),(90,12.4),(72,12.2),(65,11)],
]
grey_loops_EM = [[(165.6,10.5),(171.8,11.5),(178.8,10.7),(174.6,9.5),(167.6,9.7)]]
rings_EM = [(77,9.3),(96.9,8.2),(72.8,5.6),(83.3,5.2),(59.3,5.7),(94.8,5.6),(103.5,5.1),(111.6,5.1),(122.3,5.6),(140.9,5.1),(148.8,4.8),(131,4.4),(165.1,4.9),(23.3,6.8),(28.2,5.2),(58.2,4.2),(60.3,3),(87.9,3.1),(95.1,3.5),(102.8,3.6),(109.8,2.6),(70.7,2.6),(162.8,3.3),(123.7,3)]
tris_EM_avg = [(104.6,20),(46,17.3),(36.4,8.3),(110.5,7.75),(82.8,7.1),(132,5.7),(14.9,4.25),(76.8,4.25),(68.3,3.9),(52.5,3.6),(116.8,3.8),(134.7,3.5),(156,4),(168.3,3.2),(91,2.2),(101,2.6),(36.4,1.9)]
tris_EM_raw = [(92,43),(104.5,20.1),(46,17.9),(35.8,8.5),(110.9,8.1),(82.6,7.1),(14.9,4.3),(76.7,4.2),(68.2,3.9),(52.6,3.7),(117.2,3.9),(134.9,3.5),(156.2,4),(168.8,3.2),(90.9,2.35),(101.1,2.6),(36.1,1.9)]
black_top_EM_raw = [[(26.8,51),(35.1,40.4),(40.7,34.7),(49.1,33),(61.6,33),(84,33.9),(104.9,33),(123,32.2),(141.1,33.3),(155.1,35),(165.6,38.7),(164.8,42.1),(155,46.6),(137,50.6)]]
white_ring_EM_raw = [[(74.9,43.5),(81.9,46),(91,46.2),(104.9,44.7),(110.5,42.8),(110.5,41.5),(102,40.1),(91,39.9),(79.8,40.9),(75.6,42.5)]]
grey_ring_EM_raw = [[(59.6,44.9),(61.6,48.3),(71.4,50.3),(81.2,50.5),(106.3,47.9),(127.2,43.8),(130.7,41.5),(120.2,38.4),(95.1,37.6),(70,38.4),(61.6,41.1)]]

# ---------------- side panels (power, period)
side_T_avg_dash = [(.53,51),(.66,48.4),(.77,45.3),(.8,43),(.76,39.8),(.61,37.1),(.43,34.2),(.3,32.4),(.21,29.9),(.19,28.1),(.24,25.8),(.43,23.6),(.59,21.8),(.63,20.7),(.57,19.3),(.46,17.8),(.445,16.4),(.456,14.6),(.354,13.3),(.21,12.2),(.117,11.5),(.08,10.2),(.117,8.4),(.1,7),(.044,5.7),(.055,4.4),(.007,2.4)]
side_T_avg_sig = [(.71,51),(.536,41.2),(.336,33.1),(.21,26.9),(.135,22.4),(.06,16.5),(.007,8.9),(0,2.6)]
side_SH_avg_dash = [(.62,51),(.73,47.8),(.8,43),(.73,38.3),(.565,33.6),(.35,29.7),(.24,26.5),(.29,23.4),(.37,20.2),(.46,16.3),(.51,14.3),(.4,11.3),(.16,9.2),(.11,5.3),(.02,2)]
side_SH_avg_sig = [(.7,51),(.4,34.4),(.22,25),(.11,13),(0,2)]
side_EM_avg_dash = [(.25,51),(.36,47.5),(.54,43),(.47,38.5),(.19,33.1),(.12,29.6),(.25,27.3),(.74,25.5),(1.6,23.7),(2.52,21.9),(2.63,21),(2.36,19.4),(1.6,17.9),(.95,16.7),(.52,14.7),(.39,11.6),(.39,8),(.19,6.2),(.14,4.4),(.03,2.6)]
side_EM_avg_sig = [(1.87,51),(1.06,35),(.57,25.5),(.19,15.2),(0,2.6)]
side_T_raw_dash = [(4.82,50.9),(5.46,48.6),(5.67,46.3),(5.46,44),(4.56,41),(3.27,38.7),(1.98,36.2),(1.08,33),(.44,29.7),(.18,26.3),(.44,22.9),(.49,20.6),(.31,17.2),(.26,13.3),(.05,9.9),(.05,4.8),(0,2)]
side_T_raw_sig = [(.88,50.9),(.44,34.2),(.13,21.8),(.03,8.8),(0,3.1)]
side_SH_raw_dash = [(5.2,51),(5.75,48),(5.9,45.5),(5.5,43),(4.7,40.5),(3.3,38),(2,35.5),(1,32),(.4,29),(.16,25),(.2,21.5),(.25,18),(.15,13),(.05,9),(.03,5),(0,2)]
side_SH_raw_sig = [(.9,51),(.45,34),(.13,21),(.03,9),(0,3)]
side_EM_raw_dash = [(2.4,51),(2.65,46),(2.2,40.5),(1.15,34),(.43,30.3),(.25,27.2),(1.15,24),(1.97,21.7),(1.97,20.4),(.97,17.7),(.43,14.6),(.32,9),(.14,2.8)]
side_EM_raw_sig = [(1.86,51),(.8,28),(.32,15.4),(0,2.8)]

PERIOD_TICKS = [10, 20, 30, 40, 50]
TIME_TICKS = [100, 200]
SERIES_KEY = [("EM", "#B22222"), ("SH", "#1E90FF"), ("T", "black")]
LEVEL_KEY = [("68% level", "black"), ("95% level", "#A9A9A9"), ("98% level", "#FFFFF2")]

panels = [
 dict(col=0, row=0, title="Total helicity flux", bands=bands_T_avg, levels=LEVELS_T_AVG,
      black_closed=black_loops_T, black_open=black_top_T_avg, white_open=white_low_T + white_top_T_avg + [lace_TS],
      white_closed=white_loops_T + white_closed_T_avg, grey_open=grey_top_T_avg, grey_closed=grey_loops_T,
      rings=rings_T, tris=tris_T_avg + tris_common_T, wiggle=wiggle_TS,
      dash=side_T_avg_dash, sig=side_T_avg_sig, side_ticks=[0, .5], side_max=1.0),
 dict(col=1, row=0, title="Shearing helicity flux", bands=bands_SH_avg, levels=LEVELS_T_AVG,
      black_closed=black_loops_SH, black_open=black_top_SH_avg, white_open=white_top_SH_avg + [lace_TS],
      white_closed=white_loops_SH, grey_open=grey_top_SH_avg, grey_closed=grey_loops_SH,
      rings=rings_SH, tris=tris_SH_avg, wiggle=wiggle_TS,
      dash=side_SH_avg_dash, sig=side_SH_avg_sig, side_ticks=[0, .5], side_max=1.0),
 dict(col=2, row=0, title="Emergence helicity flux", bands=bands_EM_avg, levels=LEVELS_EM_AVG,
      black_closed=black_loops_EM, black_open=black_open_EM, white_open=white_open_EM,
      white_closed=[], grey_open=grey_open_EM, grey_closed=grey_loops_EM,
      rings=rings_EM, tris=tris_EM_avg, wiggle=wiggle_EM,
      dash=side_EM_avg_dash, sig=side_EM_avg_sig, side_ticks=[0, 2.5], side_max=3.21),
 dict(col=0, row=1, title="T helicity flux w/o avarage", bands=bands_T_raw, levels=LEVELS_T_RAW,
      black_closed=black_loops_T, black_open=black_top_T_raw, white_open=white_top_T_raw + [lace_TS],
      white_closed=white_loops_T, grey_open=grey_top_T_raw, grey_closed=grey_loops_T,
      rings=rings_T, tris=tris_T_raw + tris_common_T, wiggle=wiggle_TS,
      dash=side_T_raw_dash, sig=side_T_raw_sig, side_ticks=[0, 5], side_max=7.09),
 dict(col=1, row=1, title="SH helicity flux w/o avarage", bands=bands_SH_raw, levels=LEVELS_T_RAW,
      black_closed=black_loops_SH, black_open=black_top_SH_raw, white_open=white_top_SH_raw + [lace_TS],
      white_closed=white_loops_SH + white_extra_SH_raw, grey_open=grey_top_SH_raw, grey_closed=grey_loops_SH,
      rings=rings_SH, tris=tris_SH_raw, wiggle=wiggle_TS,
      dash=side_SH_raw_dash, sig=side_SH_raw_sig, side_ticks=[0, 5], side_max=7.09),
 dict(col=2, row=1, title="EM helicity flux w/o avarage", bands=bands_EM_raw, levels=LEVELS_EM_RAW,
      black_closed=black_loops_EM + black_top_EM_raw, black_open=black_open_EM, white_open=white_open_EM,
      white_closed=white_ring_EM_raw, grey_open=grey_open_EM, grey_closed=grey_loops_EM + grey_ring_EM_raw,
      rings=rings_EM, tris=tris_EM_raw, wiggle=wiggle_EM,
      dash=side_EM_raw_dash, sig=side_EM_raw_sig, side_ticks=[0, 2.5], side_max=3.21),
]

# ---------------- page layout in pixels
COL_X = [(267, 864), (1237, 1832), (2207, 2804)]
SIDE_X = [(899, 1075), (1868, 2043), (2839, 3011)]
CBAR_X = [(267, 1065), (1241, 2040), (2216, 3011)]
ROW_Y = [(968, 1584), (1832, 2447)]
CBAR_Y = [(1666, 1688), (2597, 2618)]
TICK_Y = [1631, 2497]
CBAR_TICK_Y = [1733, 2665]


def px_x(a, b):
    return [a / W, b / W]


def px_y(top, bottom):
    return [1 - bottom / H, 1 - top / H]


def xy(loops, closed=False, overlap=2):
    xs, ys = [], []
    for loop in loops:
        pts = list(loop) + (list(loop[:overlap]) if closed else [])
        xs += [p[0] for p in pts] + [None]
        ys += [p[1] for p in pts] + [None]
    return xs, ys


fig = go.Figure()
layout = {}
annotations = []
shapes = []
axis_count = [0]


def new_axes(xopts, yopts):
    axis_count[0] += 1
    n = axis_count[0]
    s = "" if n == 1 else str(n)
    layout["xaxis" + s] = dict(anchor="y" + s, automargin=False, **xopts)
    layout["yaxis" + s] = dict(anchor="x" + s, automargin=False, **yopts)
    return "x" + s, "y" + s


def text(t, x, y, size, xanchor="center", yanchor="middle", angle=0):
    annotations.append(dict(text=t, x=x / W, y=1 - y / H, xref="paper", yref="paper", showarrow=False,
                            xanchor=xanchor, yanchor=yanchor, textangle=angle,
                            font=dict(family=FONT, size=size, color="black")))


def round_box(x0, y0, x1, y1, r=10):
    X0, X1, Y0, Y1 = x0 / W, x1 / W, 1 - y0 / H, 1 - y1 / H
    rx, ry = r / W, r / H
    path = ("M%f,%f L%f,%f Q%f,%f %f,%f L%f,%f Q%f,%f %f,%f L%f,%f Q%f,%f %f,%f L%f,%f Q%f,%f %f,%f Z" % (
        X0 + rx, Y0, X1 - rx, Y0, X1, Y0, X1, Y0 - ry, X1, Y1 + ry, X1, Y1, X1 - rx, Y1,
        X0 + rx, Y1, X0, Y1, X0, Y1 + ry, X0, Y0 - ry, X0, Y0, X0 + rx, Y0))
    shapes.append(dict(type="path", path=path, xref="paper", yref="paper", line=dict(color="#222", width=2.5),
                       fillcolor="rgba(253,207,62,0.8)", layer="above"))


def key_line(x0, x1, y, colr, width):
    shapes.append(dict(type="line", xref="paper", yref="paper", x0=x0 / W, x1=x1 / W, y0=1 - y / H, y1=1 - y / H,
                       line=dict(color=colr, width=width), layer="above"))


TICK = dict(ticks="outside", tickcolor="black", showgrid=False, zeroline=False, tickfont=dict(family=FONT, size=42, color="black"))

# ---- top panel
xa, ya = new_axes(
    dict(domain=px_x(266, W), range=[0, 203.9], tickmode="array", tickvals=TOP_TICKS, ticklen=13, tickwidth=3,
         showline=True, linewidth=3, linecolor="black", mirror=True,
         title=dict(text="Time (hours)", font=dict(family=FONT, size=44, color="black"), standoff=12), **TICK),
    dict(domain=px_y(103, 721), range=[-1.2, 1.2], tickmode="array", tickvals=[-1, -.5, 0, .5, 1],
         ticktext=["\u22121.0", "\u22120.5", "0.0", "0.5", "1.0"], ticklen=13, tickwidth=3,
         showline=True, linewidth=3, linecolor="black",
         title=dict(text="Nor. helicity flux (Mx<sup>2</sup>/s)", font=dict(family=FONT, size=43, color="black"), standoff=14), **TICK))
for name, tt, vv, colr, lw in [("EM", EM_T, EM_V, SERIES_KEY[0][1], 4.5), ("SH", SH_T, SH_V, SERIES_KEY[1][1], 5), ("T", T_T, T_V, SERIES_KEY[2][1], 5)]:
    fig.add_trace(go.Scatter(x=tt, y=vv, name=name, mode="lines", line=dict(color=colr, width=lw, shape="spline", smoothing=.8),
                             xaxis=xa, yaxis=ya, showlegend=False, hoverinfo="skip"))
fig.add_trace(go.Scatter(x=[FLARE_T, FLARE_T], y=[-1.2, 1.2], mode="lines", line=dict(color="black", width=4.5),
                         xaxis=xa, yaxis=ya, showlegend=False, hoverinfo="skip"))
annotations.append(dict(text=FLARE_LABEL, x=FLARE_T + .6, y=-.95, xref=xa, yref=ya, showarrow=False, xanchor="left",
                        font=dict(family=FONT, size=30, color="black")))

# ---- wavelet panels
for p in panels:
    c, r = p["col"], p["row"]
    last_row = r == 1
    xa, ya = new_axes(
        dict(domain=px_x(*COL_X[c]), range=[.7, 204], tickmode="array", tickvals=TIME_TICKS, ticktext=["100", ""],
             ticklen=10, tickwidth=2, ticklabelstandoff=0, showline=True, linewidth=4.5, linecolor="black", mirror=True,
             **({"title": dict(text="Time (hours)", font=dict(family=FONT, size=44, color="black"), standoff=4)} if last_row else {}),
             **TICK),
        dict(domain=px_y(*ROW_Y[r]), range=[.43, 50.94], tickmode="array", tickvals=PERIOD_TICKS, ticklen=10, tickwidth=2,
             showline=True, linewidth=4.5, linecolor="black", mirror=True,
             **({"title": dict(text="Period (hours)", font=dict(family=FONT, size=43, color="black"), standoff=14)} if c == 0 else {}),
             **TICK))
    layout[xa.replace("x", "xaxis")]["layer"] = "above traces"
    layout[ya.replace("y", "yaxis")]["layer"] = "above traces"
    n_band = len(p["levels"]) - 1
    pal = palette(n_band)
    # lowest band fills the axes
    fig.add_trace(go.Scatter(x=[.7, 204, 204, .7, .7], y=[.43, .43, 50.94, 50.94, .43], mode="lines", fill="toself",
                             fillcolor=pal[0], line=dict(width=0), xaxis=xa, yaxis=ya, showlegend=False, hoverinfo="skip"))
    for lvl, poly in p["bands"]:
        bx, by = xy([poly], closed=True, overlap=1)
        fig.add_trace(go.Scatter(x=bx, y=by, mode="lines", fill="toself", fillcolor=pal[lvl],
                                 line=dict(width=0, shape="spline", smoothing=1), xaxis=xa, yaxis=ya,
                                 showlegend=False, hoverinfo="skip"))
    # cone of influence
    hx, hy = xy([COI_LEFT, COI_RIGHT], closed=True, overlap=1)
    fig.add_trace(go.Scatter(x=hx, y=hy, mode="lines", fill="toself", line=dict(width=0), xaxis=xa, yaxis=ya,
                             fillpattern=dict(shape="x", size=73, solidity=.07, fgcolor="black", fgopacity=1,
                                              bgcolor="rgba(0,0,0,0.30)"),
                             showlegend=False, hoverinfo="skip"))

    def lines(loops_open, loops_closed, colr, width):
        ox, oy = xy(loops_open)
        cx, cy = xy(loops_closed, closed=True)
        if ox + cx:
            fig.add_trace(go.Scatter(x=ox + cx, y=oy + cy, mode="lines", xaxis=xa, yaxis=ya, showlegend=False, hoverinfo="skip",
                                     line=dict(color=colr, width=width, shape="spline", smoothing=1)))
    lines(p["grey_open"], p["grey_closed"], "#A9A9A9", 6)
    lines(p["white_open"], p["white_closed"], "white", 6)
    lines([p["wiggle"]], [], "white", 14)
    rx, ry = [q[0] for q in p["rings"]], [q[1] for q in p["rings"]]
    fig.add_trace(go.Scatter(x=rx, y=ry, mode="markers", xaxis=xa, yaxis=ya, showlegend=False, hoverinfo="skip",
                             marker=dict(symbol="circle-open", size=22, color="white", line=dict(color="white", width=5))))
    lines(p["black_open"], p["black_closed"], "black", 5.5)
    lines([p["wiggle"]], [], "black", 4.5)
    fig.add_trace(go.Scatter(x=rx, y=ry, mode="markers", xaxis=xa, yaxis=ya, showlegend=False, hoverinfo="skip",
                             marker=dict(symbol="circle-open", size=10, color="black", line=dict(color="black", width=3.5))))
    # cone edges and flare line
    fig.add_trace(go.Scatter(x=[COI_LEFT[1][0], COI_LEFT[2][0], None, COI_RIGHT[0][0], COI_RIGHT[1][0]],
                             y=[COI_LEFT[1][1], COI_LEFT[2][1], None, COI_RIGHT[0][1], COI_RIGHT[1][1]],
                             mode="lines", line=dict(color="black", width=9), xaxis=xa, yaxis=ya, showlegend=False, hoverinfo="skip"))
    fig.add_trace(go.Scatter(x=[FLARE_T, FLARE_T], y=[.43, 50.94], mode="lines", line=dict(color="black", width=5.5),
                             xaxis=xa, yaxis=ya, showlegend=False, hoverinfo="skip"))
    fig.add_trace(go.Scatter(x=[q[0] for q in p["tris"]], y=[q[1] for q in p["tris"]], mode="markers", xaxis=xa, yaxis=ya,
                             marker=dict(symbol="triangle-up", size=27, color="#20B2AA", line=dict(width=0)),
                             showlegend=False, hoverinfo="skip"))
    text("200", COL_X[c][0] + (200 - .7) * (COL_X[c][1] - COL_X[c][0]) / 203.3 + 2, TICK_Y[r], 42, xanchor="right")
    text(p["title"], (COL_X[c][0] + COL_X[c][1]) / 2, ROW_Y[r][0] - 39, 50)

    # side panel
    sx, sy = new_axes(
        dict(domain=px_x(*SIDE_X[c]), range=[0, p["side_max"]], tickmode="array", tickvals=p["side_ticks"],
             ticktext=["", str(p["side_ticks"][1])], ticklen=10, tickwidth=2, ticklabelstandoff=0,
             showline=True, linewidth=2.5, linecolor="black", mirror=True,
             **({"title": dict(text="Power", font=dict(family=FONT, size=44, color="black"), standoff=4)} if last_row else {}),
             **TICK),
        dict(domain=px_y(*ROW_Y[r]), range=[.43, 50.94], tickmode="array", tickvals=PERIOD_TICKS, ticktext=[""] * 5,
             ticklen=10, tickwidth=2, showline=True, linewidth=2.5, linecolor="black", mirror=c != 2, **TICK))
    fig.add_trace(go.Scatter(x=[q[0] for q in p["dash"]], y=[q[1] for q in p["dash"]], mode="lines", xaxis=sx, yaxis=sy,
                             line=dict(color="black", width=4.5, dash="15px,8px", shape="spline"), showlegend=False, hoverinfo="skip"))
    fig.add_trace(go.Scatter(x=[q[0] for q in p["sig"]], y=[q[1] for q in p["sig"]], mode="lines", xaxis=sx, yaxis=sy,
                             line=dict(color="black", width=4.5, shape="spline"), showlegend=False, hoverinfo="skip"))
    text("0", SIDE_X[c][0] + 1, TICK_Y[r], 42, xanchor="left")

    # colour bar
    lv = p["levels"]
    full_px = 798
    right = CBAR_X[c][0] + full_px
    vis_max = lv[-1] * (min(right, W) - CBAR_X[c][0]) / full_px
    cb_x, cb_y = new_axes(
        dict(domain=px_x(*CBAR_X[c]), range=[0, vis_max], tickmode="array", tickvals=lv,
             ticktext=["%.2f" % v if lv is LEVELS_T_AVG else "%.1f" % v for v in lv], ticklen=14, tickwidth=2, ticklabelstandoff=-2,
             showline=True, linewidth=3, linecolor="black", mirror=True,
             **({"title": dict(text="Power", font=dict(family=FONT, size=44, color="black"), standoff=4)} if last_row else {}),
             **TICK),
        dict(domain=px_y(*CBAR_Y[r]), range=[0, 1], showticklabels=False, ticks="", showgrid=False, zeroline=False,
             showline=True, linewidth=2, linecolor="black", mirror=c != 2))
    scale = []
    for i, colr in enumerate(pal):
        scale += [[i / n_band, colr], [(i + 1) / n_band, colr]]
    fig.add_trace(go.Heatmap(x=lv, y=[0, 1], z=[list(range(n_band))], zmin=0, zmax=n_band, colorscale=scale, showscale=False,
                             xaxis=cb_x, yaxis=cb_y, hoverinfo="skip"))
    if right > W - 1:
        text("%.1f" % lv[-1], right, CBAR_TICK_Y[r], 42)

# ---- keys drawn as boxes with lines and real text
round_box(2759, 490, W + 12, 720)
for (name, colr), y in zip(SERIES_KEY, [530, 601, 674]):
    key_line(2777, 2879, y, colr, 5)
    text(name, 2919, y, 42, xanchor="left")
round_box(1055, 2755, 2215, 2852)
for (name, colr), x0 in zip(LEVEL_KEY, [1068, 1457, 1842]):
    key_line(x0, x0 + 112, 2795, colr, 12)
    text(name, x0 + 145, 2795, 42, xanchor="left")

layout["annotations"] = annotations
layout["shapes"] = shapes
fig.update_layout(
    template="none",
    width=W, height=H, margin=dict(l=0, r=0, t=0, b=0, pad=0, autoexpand=False), paper_bgcolor=BG, plot_bgcolor=BG,
    font=dict(family=FONT, color="black"), showlegend=False,
    title=dict(text="Active Region 11430", x=1638 / W, y=1 - 61 / H, xanchor="center", yanchor="middle",
               font=dict(family=FONT, size=65, color="black")),
    **layout)

fig.write_html("out.html", config={"displayModeBar": False},
               post_script="document.body.style.margin='0';document.body.style.background='%s';document.body.style.overflow='hidden';" % BG)
